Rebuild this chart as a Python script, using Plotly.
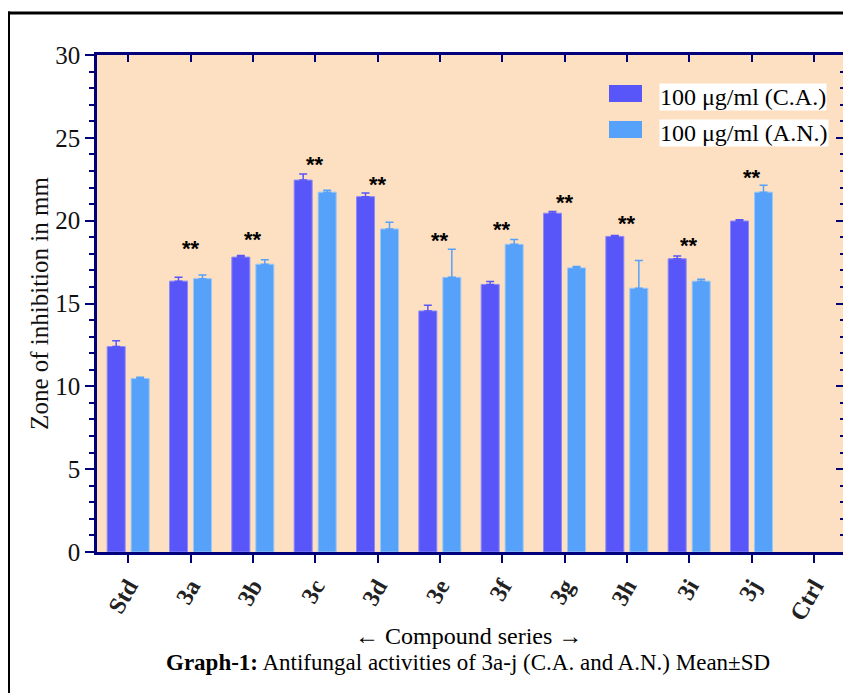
import plotly.graph_objects as go

categories = ["Std", "3a", "3b", "3c", "3d", "3e", "3f", "3g", "3h", "3i", "3j", "Ctrl"]
ca_mean = [12.4, 16.35, 17.8, 22.45, 21.45, 14.55, 16.15, 20.45, 19.05, 17.7, 19.98, 0]
ca_sd = [0.35, 0.24, 0.1, 0.36, 0.22, 0.35, 0.18, 0.1, 0.05, 0.16, 0.08, 0]
an_mean = [10.47, 16.5, 17.37, 21.72, 19.5, 16.58, 18.57, 17.15, 15.92, 16.35, 21.72, 0]
an_sd = [0.08, 0.22, 0.27, 0.12, 0.4, 1.7, 0.3, 0.08, 1.68, 0.12, 0.42, 0]
star_labels = ["", "**", "**", "**", "**", "**", "**", "**", "**", "**", "**", ""]
star_y = [None, 18.5, 19.07, 23.6, 22.39, 19.0, 19.67, 21.3, 20.04, 18.71, 22.81, None]
series_names = ["100 \u03bcg/ml (C.A.)", "100 \u03bcg/ml (A.N.)"]

CA_COLOR = "#5856F8"
AN_COLOR = "#56A1FA"
AXIS_COLOR = "#00007A"
SERIF = "Liberation Serif"


def nz(vals):
    # zero-height bars are not drawn in the reference
    return [v if v else None for v in vals]


fig = go.Figure()
fig.add_trace(go.Bar(
    x=categories, y=nz(ca_mean), name=series_names[0], showlegend=False,
    marker=dict(color=CA_COLOR, line=dict(color="#8C8AF6", width=1)),
    error_y=dict(type="data", array=nz(ca_sd), arrayminus=[0] * len(ca_sd), symmetric=False,
                 color=CA_COLOR, thickness=1.5, width=4),
))
fig.add_trace(go.Bar(
    x=categories, y=nz(an_mean), name=series_names[1], showlegend=False,
    marker=dict(color=AN_COLOR, line=dict(color="#9CC6F4", width=1)),
    error_y=dict(type="data", array=nz(an_sd), arrayminus=[0] * len(an_sd), symmetric=False,
                 color=AN_COLOR, thickness=1.5, width=4),
))
# empty trace so that the mirrored top/right axes are drawn
fig.add_trace(go.Scatter(x=[], y=[], xaxis="x2", yaxis="y2", showlegend=False,
                         hoverinfo="skip", mode="markers"))

annotations = []
for c, s, yv in zip(categories, star_labels, star_y):
    if s and yv is not None:
        annotations.append(dict(
            x=c, y=yv, xref="x", yref="y", text="<b>" + s + "</b>", showarrow=False,
            font=dict(family="Liberation Sans", size=22, color="black"),
            yanchor="middle", xanchor="center", yshift=-3,
        ))

# legend (manual to reproduce large swatches)
leg_rows = [(0.9145, 0.9396, 0.9054, CA_COLOR), (0.8424, 0.8672, 0.8330, AN_COLOR)]
shapes = []
for name, (ty, y1, y0, col) in zip(series_names, leg_rows):
    shapes.append(dict(type="rect", xref="paper", yref="paper", x0=0.6845, x1=0.7286,
                       y0=y0, y1=y1, fillcolor=col, line=dict(width=0), layer="above"))
    annotations.append(dict(x=0.7513, y=ty, xref="paper", yref="paper", text=name,
                            showarrow=False, xanchor="left", yanchor="middle",
                            font=dict(family=SERIF, size=24, color="black"),
                            bgcolor="white", borderpad=0))

annotations.append(dict(x=0.496, y=-0.169, xref="paper", yref="paper",
                        text="\u2190 Compound series \u2192", showarrow=False,
                        font=dict(family=SERIF, size=24, color="black"),
                        xanchor="center", yanchor="middle"))
annotations.append(dict(x=0.496, y=-0.2233, xref="paper", yref="paper",
                        text="<b>Graph-1:</b> Antifungal activities of 3a-j (C.A. and A.N.) Mean\u00b1SD",
                        showarrow=False, font=dict(family=SERIF, size=23, color="black"),
                        xanchor="center", yanchor="middle"))

# outer frame
shapes.append(dict(type="line", xref="paper", yref="paper", x0=-0.1183, x1=-0.1183,
                   y0=1.0875, y1=-0.32, line=dict(color="black", width=3)))
shapes.append(dict(type="line", xref="paper", yref="paper", x0=-0.1203, x1=1.02,
                   y0=1.0845, y1=1.0845, line=dict(color="black", width=3)))

fig.update_layout(
    width=843, height=685,
    margin=dict(l=89, r=6, t=47, b=141, pad=0),
    paper_bgcolor="white", plot_bgcolor="#FDDFC1",
    barmode="group", bargap=0.23, bargroupgap=0.25,
    annotations=annotations, shapes=shapes,
    showlegend=False,
    xaxis=dict(
        type="category", range=[-0.5, 11.5],
        showline=True, linecolor=AXIS_COLOR, linewidth=2.5,
        ticks="outside", ticklen=8, tickwidth=2, tickcolor=AXIS_COLOR,
        tickangle=-60, tickfont=dict(family=SERIF, size=24, color="#222222", weight="bold"),
        showgrid=False, zeroline=False,
    ),
    xaxis2=dict(
        overlaying="x", side="top", range=[-0.5, 11.5], type="linear",
        tickvals=list(range(len(categories))), showticklabels=False,
        showline=True, linecolor=AXIS_COLOR, linewidth=2.5,
        ticks="inside", ticklen=7, tickwidth=2, tickcolor=AXIS_COLOR,
        showgrid=False, zeroline=False,
    ),
    yaxis=dict(
        range=[0, 30], tickvals=[0, 5, 10, 15, 20, 25, 30],
        showline=True, linecolor=AXIS_COLOR, linewidth=2.5,
        ticks="outside", ticklen=9, tickwidth=2, tickcolor=AXIS_COLOR,
        minor=dict(dtick=1, ticks="outside", ticklen=5, tickwidth=2, tickcolor=AXIS_COLOR, showgrid=False),
        tickfont=dict(family=SERIF, size=25, color="#111111"),
        title=dict(text="Zone of inhibition in mm", font=dict(family=SERIF, size=25, color="#111111"),
                   standoff=0),
        showgrid=False, zeroline=False,
    ),
    yaxis2=dict(
        overlaying="y", side="right", range=[0, 30], type="linear",
        tickvals=[0, 5, 10, 15, 20, 25, 30],
        showticklabels=False, showline=True, linecolor=AXIS_COLOR, linewidth=2.5,
        ticks="inside", ticklen=9, tickwidth=2, tickcolor=AXIS_COLOR,
        minor=dict(dtick=1, ticks="inside", ticklen=5, tickwidth=2, tickcolor=AXIS_COLOR, showgrid=False),
        showgrid=False, zeroline=False,
    ),
)

fig.write_html("out.html")
